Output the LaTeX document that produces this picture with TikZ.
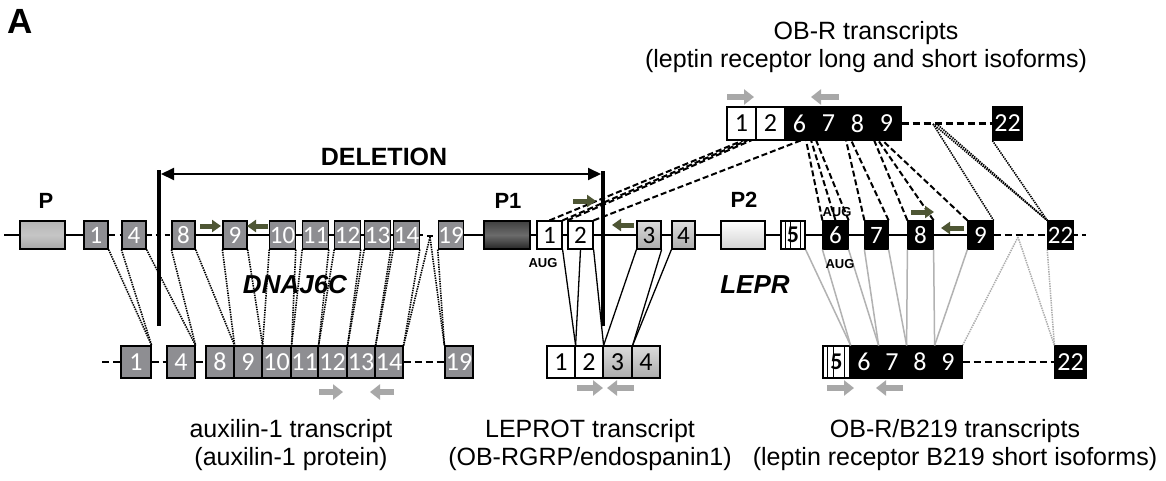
\documentclass[tikz,border=0pt]{standalone}
\usepackage{fontspec}
\setmainfont{Liberation Sans}
\newfontfamily\digf{Carlito}
\usetikzlibrary{arrows.meta,calc}
\definecolor{olv}{RGB}{78,86,52}
\definecolor{prim}{RGB}{168,168,168}
\definecolor{exg}{RGB}{142,142,146}
\newcommand\GX[5]{\node[#4,minimum width={#3-#2},minimum height=28] (#1) at ({(#2+#3)/2},235) {#5};}
\newcommand\TX[5]{\node[#4,minimum width={#3-#2},minimum height=33] (#1) at ({(#2+#3)/2},123.5) {#5};}
\newcommand\BX[5]{\node[#4,minimum width={#3-#2},minimum height=32] (#1) at ({(#2+#3)/2},362) {#5};}
\begin{document}
\begin{tikzpicture}[x=1pt,y=-1pt,
  gx/.style={draw=black,line width=1.2pt,inner sep=0pt,font=\digf\fontsize{25}{25}\selectfont},
  bx/.style={gx,font=\digf\fontsize{26}{26}\selectfont},
  grayex/.style={fill=exg,text=white},
  whiteex/.style={fill=white,text=black},
  blackex/.style={fill=black,text=white},
  lgex/.style={top color=gray!28,bottom color=gray!65,text=black},
  pex/.style={gx,top color=gray!58,bottom color=gray!70,middle color=gray!45},
  ponex/.style={gx,top color=black!75,bottom color=black!85,middle color=black!58},
  ptwoex/.style={gx,top color=white,bottom color=gray!35},
  stripex/.style={fill=white,text=black,font=\digf\bfseries\fontsize{24}{24}\selectfont,
    path picture={\foreach \f in {0.18,0.4,0.8}{\draw[line width=0.9pt]
      ($(path picture bounding box.south west)!\f!(path picture bounding box.south east)$) --
      ($(path picture bounding box.north west)!\f!(path picture bounding box.north east)$);}}},
  gline/.style={line width=2pt,black},
  tdash/.style={line width=2.8pt,dash pattern=on 7pt off 4pt},
  odash/.style={line width=2pt,dash pattern=on 6pt off 3pt},
  odot/.style={line width=1.6pt,dash pattern=on 1.4pt off 1pt},
  gdot/.style={line width=1.5pt,gray!65,dash pattern=on 1.4pt off 1pt},
  gsol/.style={line width=1.5pt,gray!60},
  lsol/.style={line width=1.3pt,black},
  delbar/.style={line width=4.5pt},
  garr/.style={draw=olv,line width=5pt,-{Triangle[length=9pt,width=12pt]}},
  parr/.style={draw=prim,line width=5.5pt,-{Triangle[length=10pt,width=15pt]}},
  lbl/.style={inner sep=0pt,font=\fontsize{25}{28}\selectfont,anchor=base},
  bld/.style={inner sep=0pt,font=\bfseries\fontsize{22}{22}\selectfont,anchor=base},
  bit/.style={inner sep=0pt,font=\bfseries\itshape\fontsize{26}{26}\selectfont,anchor=base},
  aug/.style={inner sep=0pt,font=\bfseries\fontsize{13}{13}\selectfont,anchor=base}]
\fill[white] (0,0) rectangle (1166,480);
\useasboundingbox (0,0) rectangle (1166,480);

% ---------- genomic row ----------
\GX{P}{20}{65}{pex}{}
\GX{g1}{84}{108}{gx,grayex}{1}
\GX{g4}{122}{146}{gx,grayex}{4}
\GX{g8}{172}{195}{gx,grayex}{8}
\GX{g9}{223}{247}{gx,grayex}{9}
\GX{g10}{270}{295}{gx,grayex}{10}
\GX{g11}{304}{327}{gx,grayex}{11}
\GX{g12}{336}{359}{gx,grayex}{12}
\GX{g13}{366}{389}{gx,grayex}{13}
\GX{g14}{395}{418}{gx,grayex}{14}
\GX{g19}{439}{463}{gx,grayex}{19}
\GX{P1}{484}{530}{ponex}{}
\GX{l1}{537}{562}{gx,whiteex}{1}
\GX{l2}{568}{593}{gx,whiteex}{2}
\GX{l3}{637}{661}{gx,lgex}{3}
\GX{l4}{672}{695}{gx,lgex}{4}
\GX{P2}{721}{765}{ptwoex}{}
\GX{l5}{781}{805}{gx,stripex}{5}
\GX{l6}{823}{848}{gx,blackex}{6}
\GX{l7}{865}{888}{gx,blackex}{7}
\GX{l8}{908}{933}{gx,blackex}{8}
\GX{l9}{968}{993}{gx,blackex}{9}
\GX{l22}{1048}{1073}{gx,blackex}{22}

% ---------- OB-R transcript (top) ----------
\TX{t1}{727}{756}{bx,whiteex}{1}
\TX{t2}{756}{785}{bx,whiteex}{2}
\TX{t6}{785}{814}{bx,blackex}{6}
\TX{t7}{814}{843}{bx,blackex}{7}
\TX{t8}{843}{872}{bx,blackex}{8}
\TX{t9}{872}{901}{bx,blackex}{9}
\TX{t22}{993}{1022}{bx,blackex}{22}

% ---------- auxilin-1 transcript ----------
\BX{d1}{121}{151}{bx,grayex}{1}
\BX{d4}{167}{195}{bx,grayex}{4}
\BX{d8}{206}{234}{bx,grayex}{8}
\BX{d9}{234}{262}{bx,grayex}{9}
\BX{d10}{262}{291}{bx,grayex}{10}
\BX{d11}{291}{318}{bx,grayex}{11}
\BX{d12}{318}{347}{bx,grayex}{12}
\BX{d13}{347}{375}{bx,grayex}{13}
\BX{d14}{375}{403}{bx,grayex}{14}
\BX{d19}{445}{473}{bx,grayex}{19}

% ---------- LEPROT transcript ----------
\BX{e1}{547}{575}{bx,whiteex}{1}
\BX{e2}{575}{603}{bx,whiteex}{2}
\BX{e3}{603}{632}{bx,lgex}{3}
\BX{e4}{632}{660}{bx,lgex}{4}

% ---------- OB-R/B219 transcript ----------
\BX{f5}{823}{850}{bx,stripex}{5}
\BX{f6}{850}{878}{bx,blackex}{6}
\BX{f7}{878}{906}{bx,blackex}{7}
\BX{f8}{906}{934}{bx,blackex}{8}
\BX{f9}{934}{962}{bx,blackex}{9}
\BX{f22}{1055}{1086}{bx,blackex}{22}

% ---------- genomic line ----------
\coordinate (gs) at (4,235);
\coordinate (ge) at (1088,235);
\coordinate (ga) at (423,235);
\coordinate (va) at (427,236);
\coordinate (vb) at (433,236);
\coordinate (vx) at (430,237);
\draw[gline] (gs) -- (P.west) (P.east) -- (g1.west);
\draw[gline,dash pattern=on 6pt off 5pt] (g1.east) -- (g4.west);
\draw[gline,dash pattern=on 5pt off 4pt] (g4.east) -- (g8.west);
\draw[gline] (g8.east) -- (g9.west) (g9.east) -- (g10.west) (g10.east) -- (g11.west)
  (g11.east) -- (g12.west) (g12.east) -- (g13.west) (g13.east) -- (g14.west) (g14.east) -- (ga);
\draw[gline] (va) -- (vb);
\draw[gline] (g19.east) -- (P1.west) (P1.east) -- (l1.west) (l1.east) -- (l2.west) (l2.east) -- (l3.west)
  (l3.east) -- (l4.west) (l4.east) -- (P2.west) (P2.east) -- (l5.west) (l5.east) -- (l6.west)
  (l6.east) -- (l7.west) (l7.east) -- (l8.west) (l8.east) -- (l9.west);
\draw[gline,dash pattern=on 7pt off 4pt] (l9.east) -- (l22.west);
\draw[gline,dash pattern=on 4pt off 4pt] (l22.east) -- (ge);

% ---------- transcript dashed introns ----------
\coordinate (dstart) at (102,362);
\draw[tdash] (dstart) -- (d1.west);
\draw[tdash] (d1.east) -- (d4.west);
\draw[tdash] (d4.east) -- (d8.west);
\draw[tdash] (d14.east) -- (d19.west);
\draw[tdash] (f9.east) -- (f22.west);
\draw[tdash] (t9.east) -- (t22.west);

% ---------- auxilin-1 splicing (dotted) ----------
\draw[odot] (g1.south east) -- (d1.north east);
\draw[odot] (g4.south west) -- (d1.north east);
\draw[odot] (g4.south east) -- (d4.north east);
\draw[odot] (g8.south west) -- (d4.north east);
\draw[odot] (g8.south east) -- (d8.north east);
\draw[odot] (g9.south west) -- (d8.north east);
\draw[odot] (g9.south east) -- (d9.north east);
\draw[odot] (g10.south west) -- (d9.north east);
\draw[odot] (g10.south east) -- (d10.north east);
\draw[odot] (g11.south west) -- (d10.north east);
\draw[odot] (g11.south east) -- (d11.north east);
\draw[odot] (g12.south west) -- (d11.north east);
\draw[odot] (g12.south east) -- (d12.north east);
\draw[odot] (g13.south west) -- (d12.north east);
\draw[odot] (g13.south east) -- (d13.north east);
\draw[odot] (g14.south west) -- (d13.north east);
\draw[odot] (g14.south east) -- (d14.north east);
\draw[odot] (vx) -- (d14.north east);
\draw[odot] (vx) -- (d19.north west);
\draw[odot] (g19.south west) -- (d19.north west);

% ---------- LEPROT splicing ----------
\draw[lsol] (l1.south east) -- (e1.north east);
\draw[lsol] (l2.south) -- (e1.north east);
\draw[lsol] (l2.south east) -- (e2.north east);
\draw[lsol] (l3.south west) -- (e2.north east);
\draw[lsol] (l3.south east) -- (e3.north east);
\draw[lsol] (l4.south west) -- (e3.north east);

% ---------- OB-R/B219 splicing ----------
\draw[gsol] (l5.south east) -- (f5.north east);
\draw[gsol] (l6.south west) -- (f5.north east);
\draw[gsol] (l6.south east) -- (f6.north east);
\draw[gsol] (l7.south west) -- (f6.north east);
\draw[gsol] (l7.south east) -- (f7.north east);
\draw[gsol] (l8.south west) -- (f7.north east);
\draw[gsol] (l8.south east) -- (f8.north east);
\draw[gsol] (l9.south west) -- (f8.north east);
\coordinate (bv) at (1018,237);
\draw[gdot] (bv) -- (f9.north east);
\draw[gdot] (bv) -- (f22.north west);
\draw[gdot] (l22.south west) -- (f22.north west);

% ---------- OB-R splicing (top) ----------
\coordinate (tA) at (744,140);
\coordinate (tB) at (748,140);
\coordinate (tC) at (752,140);
\coordinate (tD) at (802,140);
\coordinate (tE) at (806,140);
\coordinate (tF) at (811,140);
\coordinate (tG) at (816,140);
\coordinate (tH) at (846,140);
\coordinate (tI) at (851,140);
\coordinate (tJ) at (874,140);
\coordinate (tK) at (878,140);
\coordinate (tL) at (882,140);
\draw[odash] (l1.north) -- (tA);
\draw[odash] (l1.north east) -- (tB);
\draw[odash] (l2.north west) -- (tC);
\draw[odash] (l2.north east) -- (tD);
\draw[odash] (l6.north west) -- (tE);
\draw[odash] (l6.north) -- (tF);
\draw[odash] (l6.north east) -- (tG);
\draw[odash] (l7.north west) -- (tH);
\draw[odash] (l7.north east) -- (tI);
\draw[odash] (l8.north west) -- (tJ);
\draw[odash] (l8.north east) -- (tK);
\draw[odash] (l9.north west) -- (tL);
\coordinate (tv) at (933,124);
\coordinate (tw) at (938,125);
\draw[odot] (tv) -- (l9.north east);
\draw[odot] (tv) -- (l22.north west);
\draw[odot] (tw) -- (l22.north west);
\draw[odot] (t22.south west) -- (l22.north west);

% ---------- deletion ----------
\coordinate (bL1) at (159,170);
\coordinate (bL2) at (159,326);
\coordinate (bR1) at (603,171);
\coordinate (bR2) at (603,326);
\draw[delbar] (bL1) -- (bL2);
\draw[delbar] (bR1) -- (bR2);
\coordinate (dL) at (161,174);
\coordinate (dR) at (601,174);
\draw[line width=2pt,{Triangle[length=13pt,width=12pt]}-{Triangle[length=13pt,width=12pt]}] (dL) -- (dR);
\node[inner sep=0pt,font=\bfseries\fontsize{25}{25}\selectfont,anchor=base] (delt) at (384,165) {DELETION};

% ---------- primer arrows ----------
\draw[garr] (200,226) -- (221,226);
\draw[garr] (268,226) -- (247,226);
\draw[garr] (573,201) -- (596,201);
\draw[garr] (634,225) -- (612,225);
\draw[garr] (911,212) -- (934,212);
\draw[garr] (964,228) -- (941,228);
\draw[parr] (727,97) -- (754,97);
\draw[parr] (839,97) -- (811,97);
\draw[parr] (319,392) -- (343,392);
\draw[parr] (394,392) -- (370,392);
\draw[parr] (577,388) -- (603,388);
\draw[parr] (634,388) -- (607,388);
\draw[parr] (827,388) -- (854,388);
\draw[parr] (903,388) -- (876,388);

% ---------- labels ----------
\node[inner sep=0pt,font=\bfseries\fontsize{35}{35}\selectfont,anchor=base west] (lA) at (7,33) {A};
\node[bld] (lP) at (46,208) {P};
\node[bld] (lP1) at (508,208) {P1};
\node[bld] (lP2) at (744,207) {P2};
\node[bit] (lD) at (295,293) {DNAJ6C};
\node[bit] (lL) at (755,293) {LEPR};
\node[aug] (aug1) at (543,267) {AUG};
\node[aug] (aug2) at (837,216) {AUG};
\node[aug] (aug3) at (840,268) {AUG};
\node[lbl] (ttl1) at (866,39) {OB-R transcripts};
\node[lbl] (ttl2) at (866,67) {(leptin receptor long and short isoforms)};
\node[lbl] (la1) at (291,437) {auxilin-1 transcript};
\node[lbl] (la2) at (291,465) {(auxilin-1 protein)};
\node[lbl] (lb1) at (590,437) {LEPROT transcript};
\node[lbl] (lb2) at (590,465) {(OB-RGRP/endospanin1)};
\node[lbl] (lc1) at (955,437) {OB-R/B219 transcripts};
\node[lbl] (lc2) at (955,465) {(leptin receptor B219 short isoforms)};
\end{tikzpicture}
\end{document}
